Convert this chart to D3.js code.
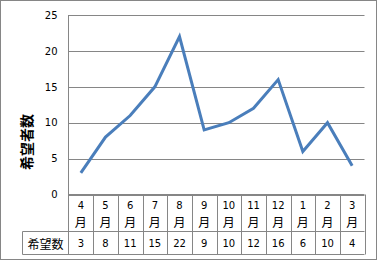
<!DOCTYPE html>
<html><head><meta charset="utf-8">
<script src="https://cdn.jsdelivr.net/npm/d3@7"></script>
<style>body{margin:0;background:#fff}svg{display:block}</style>
</head><body>
<script>
const months = ["4","5","6","7","8","9","10","11","12","1","2","3"];
const values = [3,8,11,15,22,9,10,12,16,6,10,4];
const yTicks = [0,5,10,15,20,25];
const yTitle = "希望者数";
const rowLabel = "希望数";
const monthSuffix = "月";

const W=379,H=261;
const svg=d3.select("body").append("svg").attr("width",W).attr("height",H);
svg.append("rect").attr("x",0.5).attr("y",0.5).attr("width",376).attr("height",259)
  .attr("fill","#fff").attr("stroke","#868686").attr("stroke-width",1);

const L=68.5,R=364.5,T=15,B=194.5;
const x=d3.scaleBand().domain(d3.range(months.length)).range([L,R]);
const y=d3.scaleLinear().domain([0,25]).range([B,T]);
const grid="#868686";
const numFont="DejaVu Sans", cjkFont="Noto Sans CJK JP";

// gridlines
svg.append("g").selectAll("line").data(yTicks).join("line")
  .attr("x1",L).attr("x2",R).attr("y1",d=>Math.round(y(d))+0.5).attr("y2",d=>Math.round(y(d))+0.5)
  .attr("stroke",grid).attr("stroke-width",1);
// y axis
const ya=svg.append("g").attr("transform",`translate(${L},0)`)
  .call(d3.axisLeft(y).tickValues(yTicks).tickSize(0).tickPadding(11));
ya.select(".domain").remove();
ya.selectAll("text").attr("font-family",numFont).attr("font-size",10).attr("fill","#000");
svg.append("line").attr("x1",L).attr("x2",L).attr("y1",T).attr("y2",254.5).attr("stroke",grid);

// y title
svg.append("text").attr("transform","translate(26,142) rotate(-90)")
  .attr("text-anchor","middle").attr("dominant-baseline","central")
  .attr("font-family",cjkFont).attr("font-weight","bold").attr("font-size",14).text(yTitle);

// table
const rowY1=231.5, rowY2=254.5, tblLeft=22.5;
const tb=svg.append("g").attr("stroke",grid).attr("stroke-width",1).attr("fill","none");
tb.append("line").attr("x1",L).attr("x2",R).attr("y1",B).attr("y2",B);
tb.append("line").attr("x1",tblLeft).attr("x2",R).attr("y1",rowY1).attr("y2",rowY1);
tb.append("line").attr("x1",tblLeft).attr("x2",R).attr("y1",rowY2).attr("y2",rowY2);
tb.append("line").attr("x1",tblLeft).attr("x2",tblLeft).attr("y1",rowY1).attr("y2",rowY2);
tb.selectAll(".v").data(d3.range(months.length)).join("line")
  .attr("x1",d=>Math.round(x(d)+x.bandwidth())+0.5).attr("x2",d=>Math.round(x(d)+x.bandwidth())+0.5)
  .attr("y1",B).attr("y2",rowY2);

const cx=i=>x(i)+x.bandwidth()/2;
svg.append("g").selectAll("text").data(months).join("text")
  .attr("x",(d,i)=>cx(i)).attr("y",205).attr("text-anchor","middle").attr("dominant-baseline","central")
  .attr("font-family",numFont).attr("font-size",10).text(d=>d);
svg.append("g").selectAll("text").data(months).join("text")
  .attr("x",(d,i)=>cx(i)).attr("y",221).attr("text-anchor","middle").attr("dominant-baseline","central")
  .attr("font-family",cjkFont).attr("font-size",12).text(monthSuffix);
svg.append("g").selectAll("text").data(values).join("text")
  .attr("x",(d,i)=>cx(i)).attr("y",243.5).attr("text-anchor","middle").attr("dominant-baseline","central")
  .attr("font-family",numFont).attr("font-size",10).text(d=>d);
svg.append("text").attr("x",(tblLeft+L)/2).attr("y",243).attr("text-anchor","middle").attr("dominant-baseline","central")
  .attr("font-family",cjkFont).attr("font-size",12).text(rowLabel);

// line
svg.append("path").datum(values)
  .attr("d",d3.line().x((d,i)=>cx(i)).y(d=>y(d)))
  .attr("fill","none").attr("stroke","#4a7ebb").attr("stroke-width",3).attr("stroke-linejoin","miter");
</script>
</body></html>
